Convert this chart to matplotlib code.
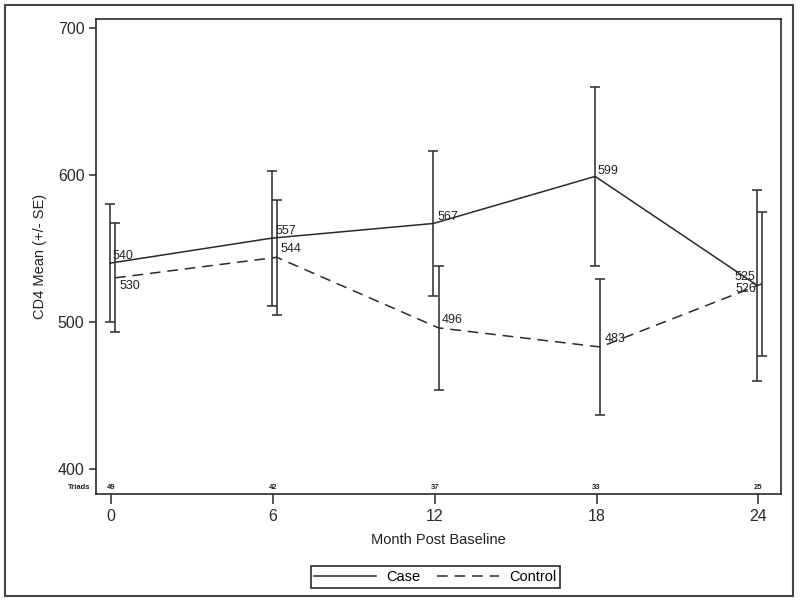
import numpy as np
import matplotlib.pyplot as plt
from matplotlib.patches import Rectangle
from matplotlib.lines import Line2D

plt.rcParams['font.family'] = ['Liberation Sans', 'DejaVu Sans']

months = [0, 6, 12, 18, 24]
case_mean = [540, 557, 567, 599, 525]
case_se = [40, 46, 49, 61, 65]
control_mean = [530, 544, 496, 483, 526]
control_se = [37, 39, 42, 46, 49]
triads = [49, 42, 37, 33, 25]

# label offsets in points (dx, dy, ha)
case_lab = [(2, 5, 'left'), (3, 5, 'left'), (3, 5, 'left'), (2, 4, 'left'), (-1, 6, 'right')]
ctrl_lab = [(3, -6, 'left'), (3, 6, 'left'), (2, 6, 'left'), (3, 6, 'left'), (-4, -4, 'right')]

col = '#2a2a2a'
dash = (0, (7, 4.5))
fig = plt.figure(figsize=(8, 6.04), dpi=100)
ax = fig.add_axes([0.1195, 0.182, 0.857, 0.7865])

x = np.array(months, dtype=float)
xc = x - 0.05
xk = x + 0.14

ax.errorbar(xc, case_mean, yerr=case_se, color=col, lw=1.1, capsize=3.8,
            elinewidth=1.1, capthick=1.1)
ax.errorbar(xk, control_mean, yerr=control_se, color=col, lw=1.1, capsize=3.8,
            elinewidth=1.1, capthick=1.1, ls=dash)

for xi, v, (dx, dy, ha) in zip(xc, case_mean, case_lab):
    ax.annotate(str(v), (xi, v), xytext=(dx, dy), textcoords='offset points',
                ha=ha, va='center', fontsize=9, color='#222')
for xi, v, (dx, dy, ha) in zip(xk, control_mean, ctrl_lab):
    ax.annotate(str(v), (xi, v), xytext=(dx, dy), textcoords='offset points',
                ha=ha, va='center', fontsize=9, color='#222')

trans = ax.get_xaxis_transform()
for xi, n in zip(months, triads):
    ax.text(xi, 0.006, str(n), transform=trans, ha='center', va='bottom',
            fontsize=5.5, fontweight='bold', color='#222')
ax.text(-0.007, 0.006, 'Triads', transform=ax.transAxes, ha='right', va='bottom',
        fontsize=5.5, fontweight='bold', color='#222')

ax.set_xlim(-0.58, 24.85)
ax.set_ylim(383, 706)
ax.set_xticks(months)
ax.set_yticks([400, 500, 600, 700])
ax.tick_params(axis='x', length=7, width=1.1, labelsize=11.5, pad=4, colors=col)
ax.tick_params(axis='y', length=5, width=1.1, labelsize=11.5, pad=3, colors=col)
for s in ax.spines.values():
    s.set_color(col)
    s.set_linewidth(1.2)

ax.set_xlabel('Month Post Baseline', fontsize=10.5, color='#222', labelpad=6)
ax.set_ylabel('CD4 Mean (+/- SE)', fontsize=10.5, color='#222', labelpad=8)

handles = [Line2D([], [], color=col, lw=1.1),
           Line2D([], [], color=col, lw=1.1, ls=dash)]
leg = fig.legend(handles, ['Case', 'Control'], loc='upper center',
                 bbox_to_anchor=(0.544, 1 - 559 / 604), ncol=2,
                 fontsize=10.5, handlelength=4.2, frameon=True, fancybox=False,
                 edgecolor=col, framealpha=1, borderpad=0.25, columnspacing=1.2,
                 handletextpad=0.7)
leg.get_frame().set_linewidth(1.2)

fig.add_artist(Rectangle((5 / 800, 1 - 596 / 604), 788 / 800, 591 / 604,
                         transform=fig.transFigure, fill=False, edgecolor='#444', lw=1.5))

fig.savefig('out.png', dpi=100)
